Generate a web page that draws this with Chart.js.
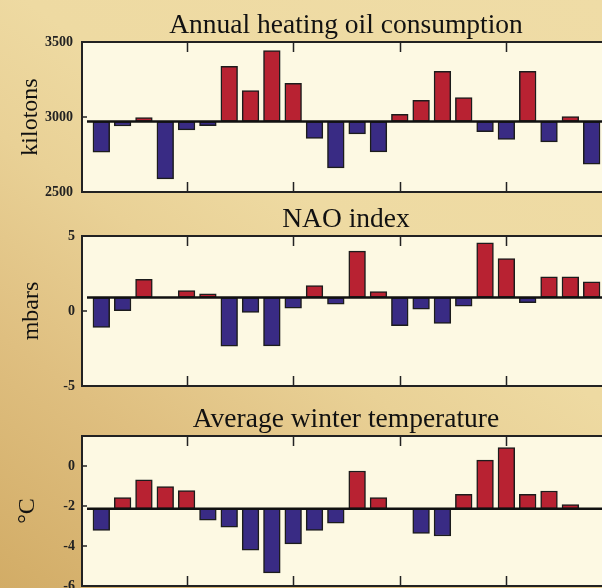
<!DOCTYPE html>
<html>
<head>
<meta charset="utf-8">
<script src="https://cdn.jsdelivr.net/npm/chart.js@4.4.1/dist/chart.umd.min.js"></script>
<style>
  html, body { margin: 0; padding: 0; width: 602px; height: 588px; overflow: hidden; }
  body { position: relative; background: linear-gradient(35deg, #d2ac66 0%, #dfbf80 25%, #e9d196 45%, #eedaa2 60%, #efdca6 100%); }
  canvas { position: absolute; left: 0; }
</style>
</head>
<body>
<canvas id="oilChart" width="610" height="210" style="top:0px"></canvas>
<canvas id="naoChart" width="610" height="210" style="top:194px"></canvas>
<canvas id="tempChart" width="610" height="210" style="top:394px"></canvas>
<script>
// winters shown, numbered left to right
var winters = [1, 2, 3, 4, 5, 6, 7, 8, 9, 10, 11, 12, 13, 14, 15, 16, 17, 18, 19, 20, 21, 22, 23, 24];
var xTicks = [5, 10, 15, 20];

// heating oil, kilotons
var oilValues = [2766, 2940, 2996, 2588, 2914, 2943, 3337, 3176, 3442, 3224, 2857, 2661,
                 2887, 2768, 3018, 3111, 3304, 3129, 2903, 2850, 3304, 2834, 3003, 2686];
var oilMean = 2970;
var oilTicks = [2500, 3000, 3500];

// NAO index, mbars
var naoValues = [-1.09, 0.03, 2.11, null, 1.36, 1.14, -2.35, -0.10, -2.33, 0.19, 1.69, 0.45,
                 3.99, 1.29, -0.98, 0.12, -0.83, 0.32, 4.54, 3.50, 0.56, 2.28, 2.28, 1.95];
var naoMean = 0.9;
var naoTicks = [-5, 0, 5];

// winter temperature, degrees C
var tempValues = [-3.22, -1.58, -0.69, -1.03, -1.23, -2.71, -3.06, -4.21, -5.34, -3.89, -3.22, -2.86,
                  -0.25, -1.58, null, -3.37, -3.50, -1.42, 0.29, 0.92, -1.42, -1.25, -1.93, null];
var tempMean = -2.14;
var tempTicks = [-6, -4, -2, 0];

var red = '#b82232';
var blue = '#392b84';
var serif = "'Liberation Serif', 'Times New Roman', serif";
var xMin = 0.095, xMax = 24.86;

var framePlugin = {
    id: 'frame',
    beforeDatasetsDraw: function(chart) {
        var a = chart.chartArea, c = chart.ctx;
        c.save();
        c.fillStyle = '#fdf9e3';
        c.fillRect(a.left, a.top, a.right - a.left, a.bottom - a.top);
        c.restore();
    },
    afterDatasetsDraw: function(chart) {
        var a = chart.chartArea, c = chart.ctx;
        var xs = chart.scales.x, ys = chart.scales.y;
        c.save();
        c.strokeStyle = '#222';
        c.lineWidth = 1.5;
        xTicks.forEach(function(t) {
            var px = Math.round(xs.getPixelForValue(t)) + 0.5;
            c.beginPath();
            c.moveTo(px, a.top); c.lineTo(px, a.top + 10);
            c.moveTo(px, a.bottom); c.lineTo(px, a.bottom - 10);
            c.stroke();
        });
        ys.ticks.forEach(function(t) {
            var py = ys.getPixelForValue(t.value);
            c.beginPath();
            c.moveTo(a.left, py); c.lineTo(a.left + 5, py);
            c.stroke();
        });
        c.lineWidth = 2;
        c.beginPath();
        c.moveTo(a.right, a.top); c.lineTo(a.left, a.top);
        c.lineTo(a.left, a.bottom); c.lineTo(a.right, a.bottom);
        c.stroke();
        c.restore();
    }
};

function makePanel(id, title, unit, values, mean, ticks, yMin, yMax, titlePad, labelPad) {
    var ctx = document.getElementById(id).getContext('2d');
    return new Chart(ctx, {
        type: 'bar',
        data: {
            datasets: [{
                type: 'line',
                data: [{x: 0.33, y: mean}, {x: xMax, y: mean}],
                borderColor: '#111',
                borderWidth: 2.5,
                pointRadius: 0,
                order: 0
            }, {
                type: 'bar',
                data: winters.map(function(w, i) { return {x: w, y: values[i]}; }),
                base: mean,
                backgroundColor: function(c) {
                    return c.raw && c.raw.y > mean ? red : blue;
                },
                borderColor: '#1c1c1c',
                borderWidth: 1.5,
                borderSkipped: false,
                barThickness: 16.7,
                order: 1
            }]
        },
        options: {
            responsive: false,
            animation: false,
            devicePixelRatio: 1,
            layout: { padding: { top: 9, bottom: 18, left: 0, right: 0 } },
            plugins: {
                legend: { display: false },
                tooltip: { enabled: false },
                title: {
                    display: true,
                    text: title,
                    fullSize: false,
                    color: '#111',
                    font: { family: serif, size: 27.5, weight: 'normal' },
                    padding: { top: 0, bottom: 0 }
                }
            },
            scales: {
                x: {
                    type: 'linear',
                    display: false,
                    offset: false,
                    min: xMin,
                    max: xMax
                },
                y: {
                    min: yMin,
                    max: yMax,
                    afterBuildTicks: function(scale) {
                        scale.ticks = ticks.map(function(v) { return {value: v}; });
                    },
                    afterFit: function(scale) { scale.width = 82; },
                    grid: { display: false, drawTicks: false },
                    border: { display: false },
                    ticks: {
                        padding: labelPad,
                        color: '#222',
                        font: { family: serif, size: 14, weight: 'bold' },
                        callback: function(v) { return String(v); }
                    },
                    title: {
                        display: true,
                        text: unit,
                        color: '#111',
                        font: { family: serif, size: 24 },
                        padding: { top: titlePad, bottom: 0 }
                    }
                }
            }
        },
        plugins: [framePlugin]
    });
}

makePanel('oilChart', 'Annual heating oil consumption', 'kilotons', oilValues, oilMean, oilTicks, 2500, 3500, 16, 9);
makePanel('naoChart', 'NAO index', 'mbars', naoValues, naoMean, naoTicks, -5, 5, 17, 7);
makePanel('tempChart', 'Average winter temperature', '\u00B0C', tempValues, tempMean, tempTicks, -6, 1.5, 13, 7);
</script>
</body>
</html>
